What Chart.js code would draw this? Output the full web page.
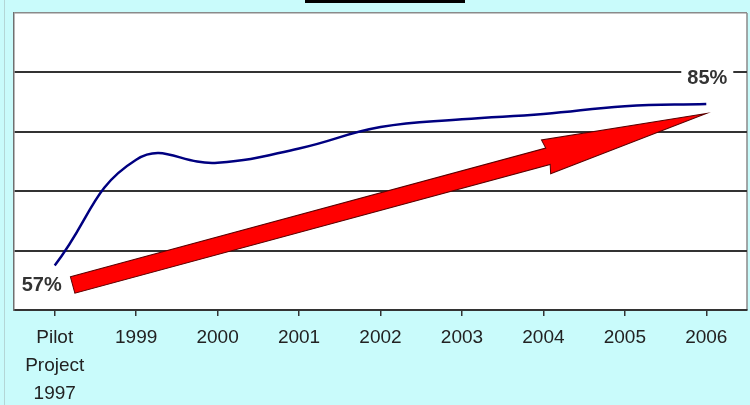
<!DOCTYPE html>
<html>
<head>
<meta charset="utf-8">
<script src="https://cdn.jsdelivr.net/npm/chart.js@4.4.0/dist/chart.umd.min.js"></script>
<style>
  html, body { margin: 0; padding: 0; background: #c9fbfb; }
  #wrap { width: 750px; height: 405px; position: relative; }
</style>
</head>
<body>
<div id="wrap"><canvas id="adoptionChart"></canvas></div>
<script>
// categories and values
let years = [['Pilot', 'Project', '1997'], '1999', '2000', '2001', '2002', '2003', '2004', '2005', '2006'];
let adoption = [57.5, 75.3, 74.8, 77.2, 80.8, 82.1, 83.0, 84.3, 84.7];
let endLabels = ['57%', '85%'];
let yRange = [50, 100, 10];
// trend arrow: [category index, percent]
let arrowFrom = [0.22, 54.2];
let arrowTo = [8.0, 83.1];

function drawArrow(ctx, x0, y0, x1, y1) {
  let len = Math.hypot(x1 - x0, y1 - y0);
  let head = 164, hw = 17.5, sw = 8.5;
  ctx.save();
  ctx.translate(x0, y0);
  ctx.rotate(Math.atan2(y1 - y0, x1 - x0));
  ctx.beginPath();
  ctx.moveTo(0, -sw);
  ctx.lineTo(len - head, -sw);
  ctx.lineTo(len - head - 2, -hw);
  ctx.lineTo(len, 0);
  ctx.lineTo(len - head - 2, hw);
  ctx.lineTo(len - head, sw);
  ctx.lineTo(0, sw);
  ctx.closePath();
  ctx.fillStyle = '#ff0000';
  ctx.fill();
  ctx.lineWidth = 1;
  ctx.strokeStyle = '#5a0000';
  ctx.stroke();
  ctx.restore();
}

const decor = {
  id: 'decor',
  beforeDraw(chart) {
    let c = chart.ctx, a = chart.chartArea;
    c.save();
    c.fillStyle = '#c9fbfb';
    c.fillRect(0, 0, chart.width, chart.height);
    c.strokeStyle = '#b4d6d6';
    c.lineWidth = 1;
    c.beginPath();
    c.moveTo(4.5, 0);
    c.lineTo(4.5, chart.height);
    c.stroke();
    c.fillStyle = '#000';
    c.fillRect(305, 0, 160, 3);
    c.fillStyle = '#fff';
    c.fillRect(a.left, a.top, a.right - a.left, a.bottom - a.top);
    c.strokeStyle = '#8a8a8a';
    c.lineWidth = 1.5;
    c.beginPath();
    c.moveTo(a.right, a.bottom);
    c.lineTo(a.right, a.top);
    c.stroke();
    c.restore();
  },
  afterDatasetsDraw(chart) {
    let c = chart.ctx;
    let x = chart.scales.x, y = chart.scales.y;
    drawArrow(c, x.getPixelForValue(arrowFrom[0]), y.getPixelForValue(arrowFrom[1]),
      x.getPixelForValue(arrowTo[0]), y.getPixelForValue(arrowTo[1]));

    let last = adoption.length - 1;
    let p0 = [x.getPixelForValue(0), y.getPixelForValue(adoption[0])];
    let p1 = [x.getPixelForValue(last), y.getPixelForValue(adoption[last])];
    c.save();
    c.font = 'bold 20px "Liberation Sans", Arial, sans-serif';
    c.textAlign = 'center';
    c.textBaseline = 'middle';
    c.fillStyle = '#fff';
    c.fillRect(p1[0] - 25, p1[1] - 35, 52, 20);
    c.fillStyle = '#333';
    c.fillText(endLabels[0], p0[0] - 13, p0[1] + 20);
    c.fillText(endLabels[1], p1[0] + 1, p1[1] - 25);
    c.restore();
  }
};

// eslint-disable-next-line no-unused-vars
let adoptionChart = new Chart(document.getElementById('adoptionChart'), {
  type: 'line',
  data: {
    labels: years,
    datasets: [{
      data: adoption,
      borderColor: '#000080',
      borderWidth: 2.5,
      tension: 0.45,
      pointRadius: 0,
      fill: false
    }]
  },
  options: {
    responsive: true,
    maintainAspectRatio: false,
    animation: false,
    layout: { padding: { left: 14, top: 13, right: 3, bottom: 0 } },
    plugins: { legend: { display: false }, tooltip: { enabled: false } },
    scales: {
      x: {
        offset: true,
        afterFit: (scale) => { scale.height = 95; },
        grid: { drawOnChartArea: false, drawTicks: true, tickLength: 6, color: '#333', lineWidth: 1.5 },
        border: { color: '#333', width: 2 },
        ticks: {
          autoSkip: false,
          maxRotation: 0,
          padding: 8,
          color: '#222',
          font: { family: '"Liberation Sans", Arial, sans-serif', size: 19, lineHeight: 1.47 }
        }
      },
      y: {
        min: yRange[0],
        max: yRange[1],
        ticks: { stepSize: yRange[2], display: false },
        grid: {
          drawTicks: false,
          color: (ctx) => ctx.tick && ctx.tick.value === yRange[1] ? '#8a8a8a' : '#333',
          lineWidth: (ctx) => ctx.tick && ctx.tick.value === yRange[1] ? 1.5 : 2
        },
        border: { color: '#707070', width: 1.5 }
      }
    }
  },
  plugins: [decor]
});
</script>
</body>
</html>
